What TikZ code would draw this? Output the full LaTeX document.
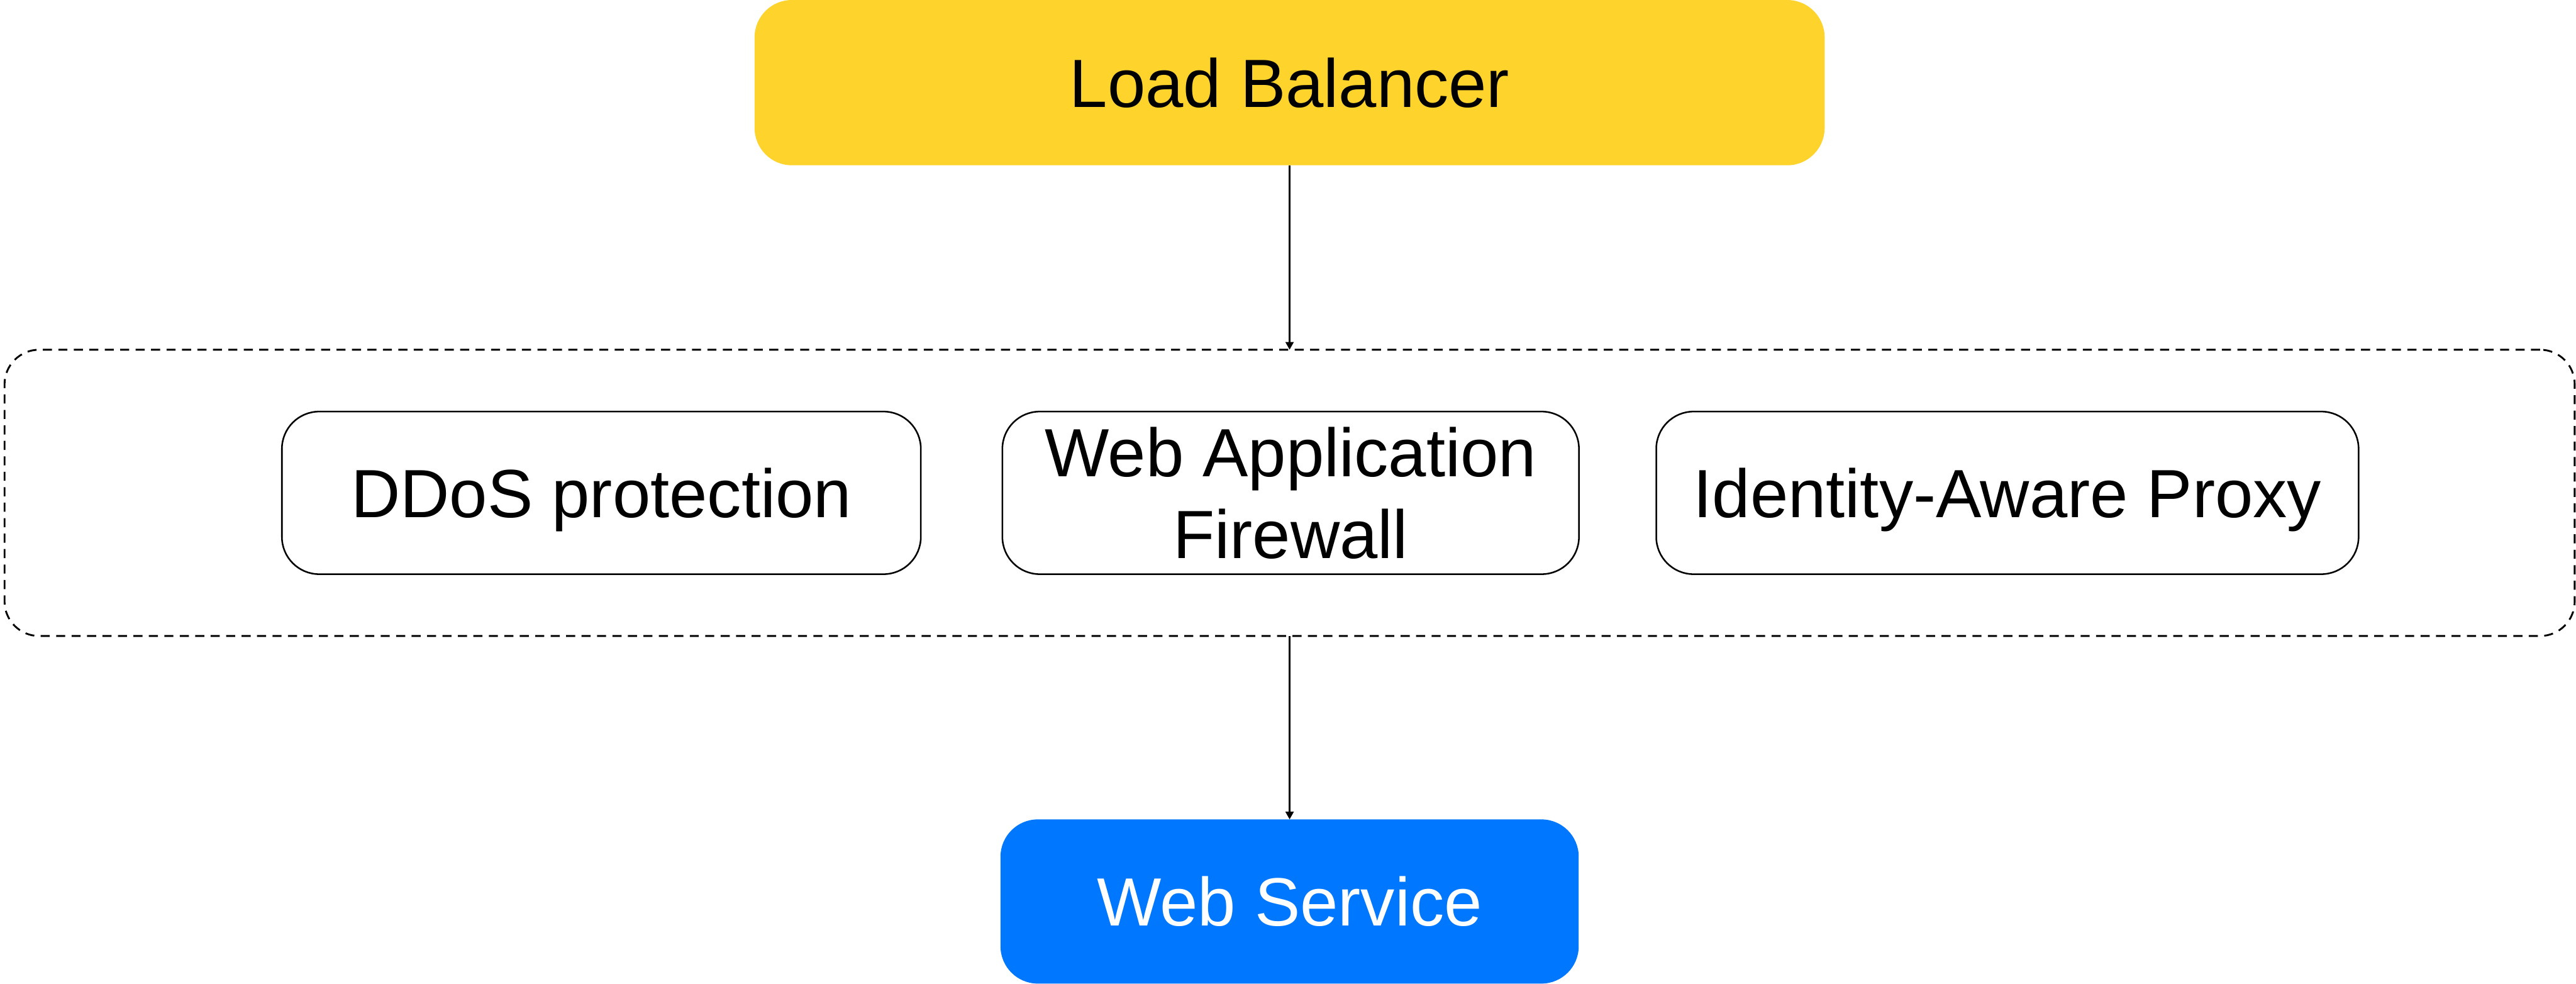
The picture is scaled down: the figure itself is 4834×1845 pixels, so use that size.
\documentclass[tikz,border=0pt]{standalone}
\usepackage{fontspec}
\setmainfont{Liberation Sans}
\usetikzlibrary{arrows.meta}
\definecolor{lbyellow}{RGB}{253,211,44}
\definecolor{wsblue}{RGB}{0,119,255}
\begin{document}
\begin{tikzpicture}[x=0.25pt,y=-0.25pt,
  every node/.style={inner sep=0pt,outer sep=0pt,font=\fontsize{32}{38.4}\selectfont},
  oneline/.style={text height=23pt,text depth=0pt},
  solidbox/.style={oneline,rounded corners=17.5pt,minimum height=77pt},
  servicebox/.style={draw=black,line width=0.75pt,rounded corners=17.5pt,
    minimum height=76.25pt,align=center},
  groupbox/.style={draw=black,line width=0.85pt,dash pattern=on 4.25pt off 3pt,
    rounded corners=16.25pt},
  flow/.style={draw=black,line width=0.85pt,-{Triangle[width=3.75pt,length=3.6pt]}}]
  \useasboundingbox (0,0) rectangle (4834,1845);

  % entry point
  \node[solidbox,fill=lbyellow,minimum width=502pt,minimum height=77.5pt]
    (lb) at (2420,155) {Load Balancer};

  % security layer
  \node[groupbox,minimum width=1205.75pt,minimum height=134.25pt]
    (grp) at (2420,924.5) {};
  \node[servicebox,oneline,minimum width=299.75pt] (ddos) at (1128.5,924.5) {DDoS protection};
  \node[servicebox,minimum width=270.5pt] (waf) at (2422,924.5) {Web Application\\Firewall};
  \node[servicebox,oneline,minimum width=329.5pt] (iap) at (3767,924.5) {Identity-Aware Proxy};

  % backend
  \node[solidbox,fill=wsblue,text=white,minimum width=271.25pt]
    (ws) at (2420,1691) {Web Service};

  \draw[flow] (lb.south) -- (grp.north);
  \draw[flow] (grp.south) -- (ws.north);
\end{tikzpicture}
\end{document}
